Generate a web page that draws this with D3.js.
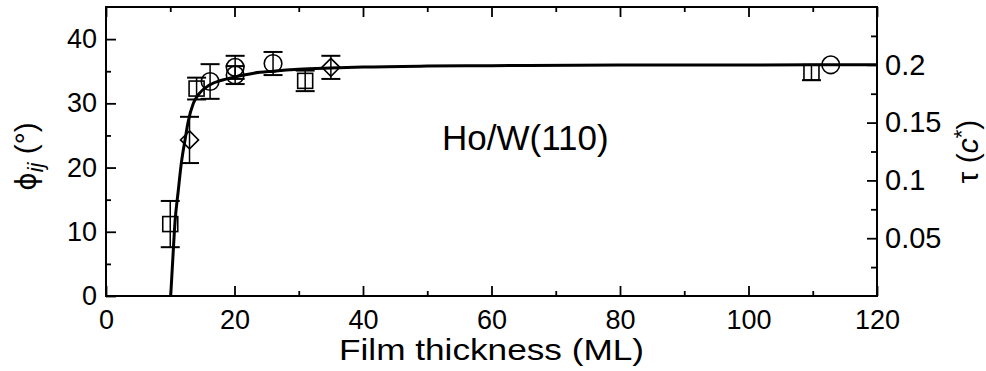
<!DOCTYPE html>
<html>
<head>
<meta charset="utf-8">
<script src="https://cdn.jsdelivr.net/npm/d3@7"></script>
<style>
  body { margin: 0; background: #fff; }
  text { font-family: "Liberation Sans", Arial, sans-serif; fill: #000; }
</style>
</head>
<body>
<div class="chart"></div>
<script>
// measured points (film thickness in ML, angle in degrees)
const squareX = [10.0, 14.1, 31.0, 109.8];
const squareY = [11.2, 32.3, 33.5, 34.8];
const squareErr = [3.6, 1.7, 1.6, 1.2];

const circleX = [16.2, 20.1, 20.1, 26.0, 112.8];
const circleY = [33.4, 35.6, 34.4, 36.2, 36.0];
const circleErr = [2.7, 1.8, 1.4, 1.8, 0];

const diamondX = [13.0, 35.0];
const diamondY = [24.3, 35.6];
const diamondErr = [3.6, 1.8];

// fit line
const fitX = [10.07, 10.4, 10.74, 11.26, 11.7, 12.3, 12.8, 13.6, 14.5, 16.2, 18, 20, 23, 26, 30, 35, 40, 50, 60, 80, 100, 120];
const fitY = [0, 5.8, 11.5, 16.5, 20.5, 24.3, 27.2, 30.0, 31.5, 32.9, 33.6, 34.1, 34.7, 35.0, 35.3, 35.5, 35.65, 35.8, 35.87, 35.95, 35.98, 36.0];

const xMajor = [0, 20, 40, 60, 80, 100, 120];
const xMinor = [10, 30, 50, 70, 90, 110];
const yMajor = [0, 10, 20, 30, 40];
const yMinor = [5, 15, 25, 35];
const tauMajor = [0.05, 0.1, 0.15, 0.2];
const tauMinor = [0.025, 0.075, 0.125, 0.175, 0.225];

const margin = { top: 7, right: 109, bottom: 75, left: 106 };
const FULL_WIDTH = 986;
const FULL_HEIGHT = 371;
const width = FULL_WIDTH - margin.left - margin.right;
const height = FULL_HEIGHT - margin.top - margin.bottom;

const svg = d3.select('.chart')
  .append('svg')
    .attr('width', FULL_WIDTH)
    .attr('height', FULL_HEIGHT)
  .append('g')
    .attr('transform', `translate(${margin.left}, ${margin.top})`);

const xScale = d3.scaleLinear().domain([0, 120]).range([0, width]);
const yScale = d3.scaleLinear().domain([0, 45]).range([height, 0]);
const tauScale = d3.scaleLinear().domain([0, 0.25]).range([height, 0]);

function styleAxis (g, size) {
  g.select('.domain').remove();
  g.selectAll('line').attr('stroke', '#000').attr('stroke-width', 1.8);
  g.selectAll('text')
    .attr('font-family', '"Liberation Sans", Arial, sans-serif')
    .attr('font-size', size);
}

// bottom
svg.append('g')
    .attr('transform', `translate(0, ${height})`)
    .call(d3.axisBottom(xScale).tickValues(xMajor).tickSize(-10).tickPadding(14).tickFormat(d3.format('d')))
    .call(g => styleAxis(g, 27));
svg.append('g')
    .attr('transform', `translate(0, ${height})`)
    .call(d3.axisBottom(xScale).tickValues(xMinor).tickSize(-5).tickFormat(''))
    .call(g => styleAxis(g, 27));
// top
svg.append('g')
    .call(d3.axisTop(xScale).tickValues(xMajor).tickSize(-10).tickFormat(''))
    .call(g => styleAxis(g, 27));
svg.append('g')
    .call(d3.axisTop(xScale).tickValues(xMinor).tickSize(-5).tickFormat(''))
    .call(g => styleAxis(g, 27));
// left
svg.append('g')
    .call(d3.axisLeft(yScale).tickValues(yMajor).tickSize(-10).tickPadding(9).tickFormat(d3.format('d')))
    .call(g => styleAxis(g, 27));
svg.append('g')
    .call(d3.axisLeft(yScale).tickValues(yMinor).tickSize(-5).tickFormat(''))
    .call(g => styleAxis(g, 27));
// right
svg.append('g')
    .attr('transform', `translate(${width}, 0)`)
    .call(d3.axisRight(tauScale).tickValues(tauMajor).tickSize(-10).tickPadding(8).tickFormat(d => String(d)))
    .call(g => styleAxis(g, 29));
svg.append('g')
    .attr('transform', `translate(${width}, 0)`)
    .call(d3.axisRight(tauScale).tickValues(tauMinor).tickSize(-6).tickFormat(''))
    .call(g => styleAxis(g, 29));

svg.append('rect')
    .attr('width', width)
    .attr('height', height)
    .attr('fill', 'none')
    .attr('stroke', '#000')
    .attr('stroke-width', 2);

// error bars
function errorBars (xs, ys, es) {
  const pts = xs.map((x, i) => ({ x, y: ys[i], e: es[i] })).filter(d => d.e > 0);
  const g = svg.append('g').attr('stroke', '#000');
  g.selectAll('line.v').data(pts).enter().append('line')
    .attr('x1', d => xScale(d.x)).attr('x2', d => xScale(d.x))
    .attr('y1', d => yScale(d.y + d.e)).attr('y2', d => yScale(d.y - d.e))
    .attr('stroke-width', 1.5);
  [1, -1].forEach(s => {
    g.selectAll(null).data(pts).enter().append('line')
      .attr('x1', d => xScale(d.x) - 9.5).attr('x2', d => xScale(d.x) + 9.5)
      .attr('y1', d => yScale(d.y + s * d.e)).attr('y2', d => yScale(d.y + s * d.e))
      .attr('stroke-width', 2);
  });
}
errorBars(squareX, squareY, squareErr);
errorBars(circleX, circleY, circleErr);
errorBars(diamondX, diamondY, diamondErr);

const symG = svg.append('g')
    .attr('fill', 'none')
    .attr('stroke', '#000')
    .attr('stroke-width', 1.6);

symG.selectAll('rect.sq')
  .data(squareX.map((x, i) => ({ x, y: squareY[i] })))
  .enter().append('rect')
    .attr('x', d => xScale(d.x) - 7.5)
    .attr('y', d => yScale(d.y) - 7.5)
    .attr('width', 15)
    .attr('height', 15);

symG.selectAll('circle')
  .data(circleX.map((x, i) => ({ x, y: circleY[i] })))
  .enter().append('circle')
    .attr('cx', d => xScale(d.x))
    .attr('cy', d => yScale(d.y))
    .attr('r', 8.8);

symG.selectAll('path.dm')
  .data(diamondX.map((x, i) => ({ x, y: diamondY[i] })))
  .enter().append('path')
    .attr('d', d => {
      const cx = xScale(d.x), cy = yScale(d.y), r = 9;
      return `M${cx},${cy - r}L${cx + r},${cy}L${cx},${cy + r}L${cx - r},${cy}Z`;
    });

// fit curve
const line = d3.line()
  .x(d => xScale(d[0]))
  .y(d => yScale(d[1]))
  .curve(d3.curveMonotoneX);
svg.append('path')
    .datum(fitX.map((x, i) => [x, fitY[i]]))
    .attr('d', line)
    .attr('fill', 'none')
    .attr('stroke', '#000')
    .attr('stroke-width', 3);

// labels
svg.append('text')
    .attr('x', 442 - margin.left)
    .attr('y', 150 - margin.top)
    .attr('font-size', 35)
    .text('Ho/W(110)');

svg.append('text')
    .attr('x', width / 2)
    .attr('y', 360 - margin.top)
    .attr('text-anchor', 'middle')
    .attr('font-size', 29)
    .attr('textLength', 305)
    .attr('lengthAdjust', 'spacingAndGlyphs')
    .text('Film thickness (ML)');

const yLab = svg.append('text')
    .attr('transform', `translate(${36 - margin.left}, ${height / 2 + 5}) rotate(-90)`)
    .attr('text-anchor', 'middle')
    .attr('font-size', 30);
yLab.append('tspan').attr('font-family', '"DejaVu Sans", sans-serif').attr('font-size', 28).text('ϕ');
yLab.append('tspan').attr('font-style', 'italic').attr('font-size', 22).attr('dy', 7).text('ij');
yLab.append('tspan').attr('dy', -7).text(' (°)');

const tLab = svg.append('text')
    .attr('transform', `translate(${978 - margin.left}, ${height / 2}) rotate(-90)`)
    .attr('text-anchor', 'middle')
    .attr('font-size', 30);
tLab.append('tspan').text('τ (');
tLab.append('tspan').attr('font-style', 'italic').text('c');
tLab.append('tspan').attr('font-size', 22).attr('dy', -9).text('*');
tLab.append('tspan').attr('dy', 9).text(')');
</script>
</body>
</html>
